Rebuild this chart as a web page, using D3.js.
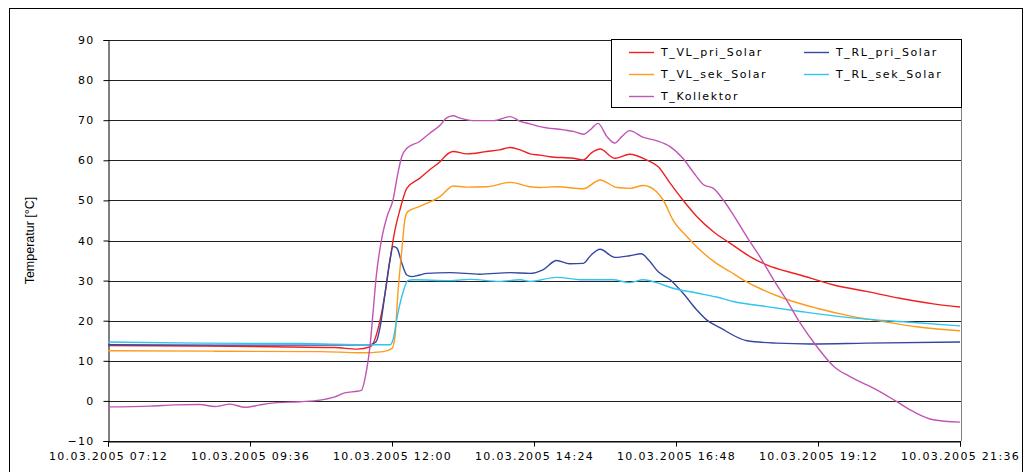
<!DOCTYPE html>
<html><head><meta charset="utf-8">
<script src="https://cdn.jsdelivr.net/npm/d3@7"></script>
<style>body{margin:0;background:#fff} svg{display:block}</style>
</head><body><svg id="c" width="1027" height="472"></svg>
<script>
const day = "10.03.2005";
const yTicks = [-10, 0, 10, 20, 30, 40, 50, 60, 70, 80, 90];
const xTickLabels = ["07:12", "09:36", "12:00", "14:24", "16:48", "19:12", "21:36"];
const yTitle = "Temperatur [°C]";

const vlPriTimes = ["07:12","08:45","10:01","11:02","11:25","11:38","11:48","11:53","11:58","12:03","12:08","12:15","12:28","12:38","12:49","12:55","13:02","13:16","13:36","13:49","14:00","14:10","14:20","14:30","14:40","15:04","15:14","15:22","15:31","15:46","16:01","16:18","16:30","16:42","16:55","17:09","17:26","17:43","18:03","18:20","18:54","19:28","20:01","20:35","21:09","21:36"];
const vlPriValues = [13.8,13.7,13.5,13.3,12.9,13.5,20.2,26.9,35.2,42.6,47.6,53.0,55.5,57.6,59.7,61.3,62.2,61.6,62.2,62.6,63.2,62.6,61.6,61.3,60.9,60.5,60.1,61.8,62.8,60.5,61.5,60.1,58.4,54.3,50.1,46.0,42.2,39.3,36.0,33.9,31.4,28.9,27.3,25.6,24.2,23.4];

const rlPriTimes = ["07:12","09:00","10:47","11:38","11:44","11:48","11:53","11:58","12:01","12:05","12:10","12:15","12:20","12:28","12:35","12:59","13:29","14:00","14:20","14:33","14:47","15:00","15:14","15:22","15:31","15:46","16:01","16:13","16:20","16:30","16:42","16:55","17:09","17:19","17:33","18:00","18:30","19:04","20:01","21:36"];
const rlPriValues = [14.0,13.9,13.9,14.0,14.8,18.5,26.9,35.2,38.5,38.1,34.3,31.4,31.0,31.4,31.8,32.0,31.6,32.0,31.8,32.7,35.0,34.2,34.3,36.4,37.8,35.8,36.2,36.7,35.2,32.2,30.2,26.9,22.7,20.2,18.2,15.0,14.4,14.2,14.4,14.7];

const vlSekTimes = ["07:12","09:00","10:47","11:28","11:51","12:00","12:03","12:06","12:10","12:13","12:16","12:28","12:49","13:02","13:16","13:36","14:00","14:20","14:30","14:47","15:14","15:31","15:48","16:01","16:15","16:28","16:35","16:45","16:59","17:16","17:29","17:43","17:56","18:37","19:11","19:44","20:18","20:52","21:36"];
const vlSekValues = [12.5,12.4,12.3,12.0,12.3,13.1,16.0,26.9,37.7,45.1,47.2,48.5,51.0,53.6,53.3,53.4,54.5,53.4,53.2,53.4,52.9,55.1,53.2,53.0,53.7,52.2,50.1,45.1,41.0,36.8,34.3,32.2,30.2,25.6,23.1,21.2,19.8,18.5,17.5];

const rlSekTimes = ["07:12","08:45","10:27","11:38","11:58","12:01","12:06","12:11","12:16","12:22","12:59","13:19","13:49","14:10","14:20","14:47","15:14","15:44","16:01","16:15","16:28","16:45","17:09","17:29","17:46","18:20","18:54","19:28","20:01","20:35","21:36"];
const rlSekValues = [14.7,14.4,14.3,14.0,14.0,15.2,21.9,26.9,30.0,30.2,30.0,30.3,29.8,30.2,29.8,30.8,30.2,30.2,29.5,30.2,29.5,28.1,26.9,25.9,24.8,23.5,22.3,21.2,20.4,19.8,18.7];

const kollTimes = ["07:12","07:55","08:20","08:45","09:00","09:16","09:31","09:46","10:01","10:27","10:47","11:02","11:12","11:25","11:29","11:33","11:38","11:41","11:44","11:50","11:55","12:01","12:06","12:10","12:15","12:28","12:38","12:49","12:55","13:02","13:09","13:22","13:43","14:00","14:10","14:20","14:30","14:54","15:04","15:14","15:21","15:29","15:38","15:46","15:53","16:01","16:15","16:28","16:42","16:55","17:05","17:16","17:26","17:36","17:43","18:03","18:13","18:27","18:40","18:54","19:11","19:28","19:44","20:12","20:32","20:49","21:09","21:36"];
const kollValues = [-1.5,-1.3,-1.0,-0.9,-1.4,-0.8,-1.6,-1.0,-0.5,-0.2,0.2,1.0,2.0,2.4,2.6,6.1,14.4,22.7,31.0,41.0,46.0,50.1,56.8,61.0,63.0,64.7,66.7,68.8,70.5,71.1,70.5,69.9,69.9,70.9,69.7,69.1,68.4,67.6,67.2,66.5,67.6,69.2,65.9,64.3,65.9,67.4,65.7,64.9,63.4,60.5,57.2,53.9,53.0,50.1,47.6,39.7,36.0,30.2,25.2,19.4,13.5,8.6,6.1,2.7,-0.2,-2.7,-4.7,-5.3];

const seriesNames = ["T_VL_pri_Solar", "T_RL_pri_Solar", "T_VL_sek_Solar", "T_RL_sek_Solar", "T_Kollektor"];
const seriesColors = ["#f02020", "#3348a0", "#ff9a1a", "#30c4f0", "#c055b5"];
const seriesData = [
  [vlPriTimes, vlPriValues],
  [rlPriTimes, rlPriValues],
  [vlSekTimes, vlSekValues],
  [rlSekTimes, rlSekValues],
  [kollTimes, kollValues]
];
const parse = d3.timeParse("%d.%m.%Y %H:%M");

const svg = d3.select("#c");
const L = 108, R = 961, T = 40, B = 441;
const x = d3.scaleTime().domain([parse(day + " 07:12"), parse(day + " 21:36")]).range([L, R - 1]);
const y = d3.scaleLinear().domain([-10, 90]).range([B, T]);
const font = "'DejaVu Sans', Verdana, sans-serif";

// outer frame
svg.append("rect").attr("x", 9.5).attr("y", 8.5).attr("width", 1013).attr("height", 480)
  .attr("fill", "none").attr("stroke", "#000");

// gridlines
const crisp = v => Math.round(v) + 0.5;
svg.append("g").selectAll("line").data(yTicks).join("line")
  .attr("x1", L).attr("x2", R).attr("y1", d => crisp(y(d))).attr("y2", d => crisp(y(d)))
  .attr("stroke", "#222").attr("stroke-width", 1);

// right plot border
svg.append("line").attr("x1", R + 0.5).attr("x2", R + 0.5).attr("y1", T).attr("y2", B)
  .attr("stroke", "#808080");

// y axis
const yAxis = svg.append("g").attr("transform", `translate(${L + 0.5},0)`)
  .call(d3.axisLeft(y).tickValues(yTicks).tickSize(5).tickPadding(9).tickFormat(d3.format("d")));
yAxis.select(".domain").attr("stroke", "#000");
yAxis.selectAll(".tick line").attr("stroke", "#000");
yAxis.selectAll(".tick text").attr("font-family", font).attr("font-size", "11px")
  .attr("letter-spacing", "1.3px").attr("fill", "#000");

// x axis
const xAxis = svg.append("g").attr("transform", `translate(0,${crisp(B)})`)
  .call(d3.axisBottom(x).tickValues(xTickLabels.map(t => parse(day + " " + t)))
    .tickSize(5).tickPadding(6).tickFormat(d3.timeFormat("%d.%m.%Y %H:%M")));
xAxis.select(".domain").attr("stroke", "#000");
xAxis.selectAll(".tick line").attr("stroke", "#000");
xAxis.selectAll(".tick text").attr("font-family", font).attr("font-size", "11px")
  .attr("letter-spacing", "1.3px").attr("fill", "#000");

// y title
svg.append("text").attr("transform", `translate(34,${(T + B) / 2}) rotate(-90)`)
  .attr("text-anchor", "middle").attr("font-family", "'Liberation Sans', Arial, sans-serif")
  .attr("font-size", "12.5px").attr("fill", "#000").text(yTitle);

// lines
const line = d3.line().x(d => x(d[0])).y(d => y(d[1])).curve(d3.curveMonotoneX);
const plot = svg.append("g");
seriesData.forEach(([times, vals], i) => {
  const pts = times.map((t, j) => [parse(day + " " + t), vals[j]]);
  plot.append("path").datum(pts).attr("d", line).attr("fill", "none")
    .attr("stroke", seriesColors[i]).attr("stroke-width", 1.4);
});

// legend
const lg = svg.append("g");
lg.append("rect").attr("x", 611.5).attr("y", 39.5).attr("width", 350).attr("height", 68)
  .attr("fill", "#fff").attr("stroke", "#000");
const legPos = [[629, 52], [804, 52], [629, 74], [804, 74], [629, 96]];
seriesNames.forEach((n, i) => {
  const [lx, ly] = legPos[i];
  lg.append("line").attr("x1", lx).attr("x2", lx + 25).attr("y1", ly + 0.5).attr("y2", ly + 0.5)
    .attr("stroke", seriesColors[i]).attr("stroke-width", 1.4);
  lg.append("text").attr("x", lx + 32).attr("y", ly + 4).attr("font-family", font)
    .attr("font-size", "11px").attr("letter-spacing", "1.6px").attr("fill", "#000").text(n);
});
</script></body></html>
